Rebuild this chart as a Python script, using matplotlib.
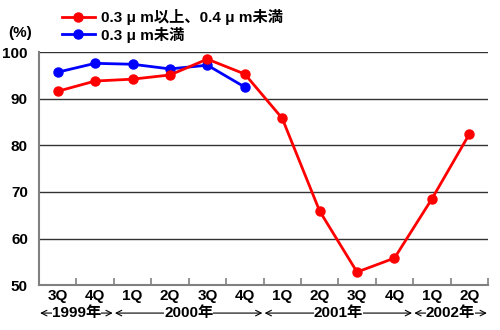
import matplotlib.pyplot as plt
from matplotlib.ticker import FixedLocator

plt.rcParams['font.family'] = ['Liberation Sans', 'Noto Sans CJK JP']
plt.rcParams['font.weight'] = 'bold'

quarters = ["3Q", "4Q", "1Q", "2Q", "3Q", "4Q", "1Q", "2Q", "3Q", "4Q", "1Q", "2Q"]
years = ["1999年", "2000年", "2001年", "2002年"]
year_span = [2, 4, 4, 2]
red_vals = [91.6, 93.8, 94.2, 95.1, 98.5, 95.3, 85.8, 65.9, 52.8, 55.8, 68.5, 82.4]
blue_vals = [95.7, 97.6, 97.4, 96.4, 97.2, 92.5]
red_name = "0.3 μ m以上、0.4 μ m未満"
blue_name = "0.3 μ m未満"

fig = plt.figure(figsize=(5, 3.3), dpi=100)
ax = fig.add_axes([0.078, 0.136, 0.898, 0.706])

x = list(range(len(quarters)))
ax.plot(x, red_vals, color='#ff0000', lw=2, marker='o', ms=6.5, label=red_name, zorder=3)
ax.plot(x[:len(blue_vals)], blue_vals, color='#0000ff', lw=2, marker='o', ms=6.5, label=blue_name, zorder=2)

ax.set_xlim(-0.5, len(quarters) - 0.5)
ax.set_ylim(50, 100)
ax.set_yticks([50, 60, 70, 80, 90, 100])
ax.tick_params(axis='y', length=0, labelsize=11, pad=8)
for t in ax.get_yticklabels():
    t.set_fontweight('bold')
for g in [60, 70, 80, 90, 100]:
    ax.axhline(g, color='#333333', lw=1, zorder=1)

ax.set_xticks(x)
ax.set_xticklabels(quarters, fontsize=11, fontweight='bold')
ax.tick_params(axis='x', length=0, pad=3)
ax.xaxis.set_minor_locator(FixedLocator([i + 0.5 for i in range(-1, len(quarters))]))
ax.tick_params(axis='x', which='minor', direction='in', length=5, color='#808080', width=1.2)

for s in ['top', 'right']:
    ax.spines[s].set_visible(False)
for s in ['left', 'bottom']:
    ax.spines[s].set_color('#808080')
    ax.spines[s].set_linewidth(1.5)

# year labels with arrows
yrow = -0.12
start = -0.5
for yr, n in zip(years, year_span):
    end = start + n
    mid = (start + end) / 2
    for edge in (start + 0.03, end - 0.03):
        ax.annotate('', xy=(edge, yrow), xytext=(mid, yrow), xycoords=('data', 'axes fraction'),
                    arrowprops=dict(arrowstyle='->', color='black', lw=0.8, shrinkA=0, shrinkB=0),
                    zorder=0.5)
    ax.text(mid, yrow, yr, transform=ax.get_xaxis_transform(), ha='center', va='center',
            fontsize=11, fontweight='bold', zorder=1,
            bbox=dict(facecolor='white', edgecolor='none', pad=0.0))
    start = end

fig.text(0.016, 0.9, "(%)", fontsize=11, fontweight='bold', va='center')
fig.legend(loc='upper left', bbox_to_anchor=(0.105, 1.0), frameon=False, fontsize=11,
           handlelength=2.2, labelspacing=0.1, borderaxespad=0.2, handletextpad=0.4)

fig.savefig('out.png', dpi=100)
